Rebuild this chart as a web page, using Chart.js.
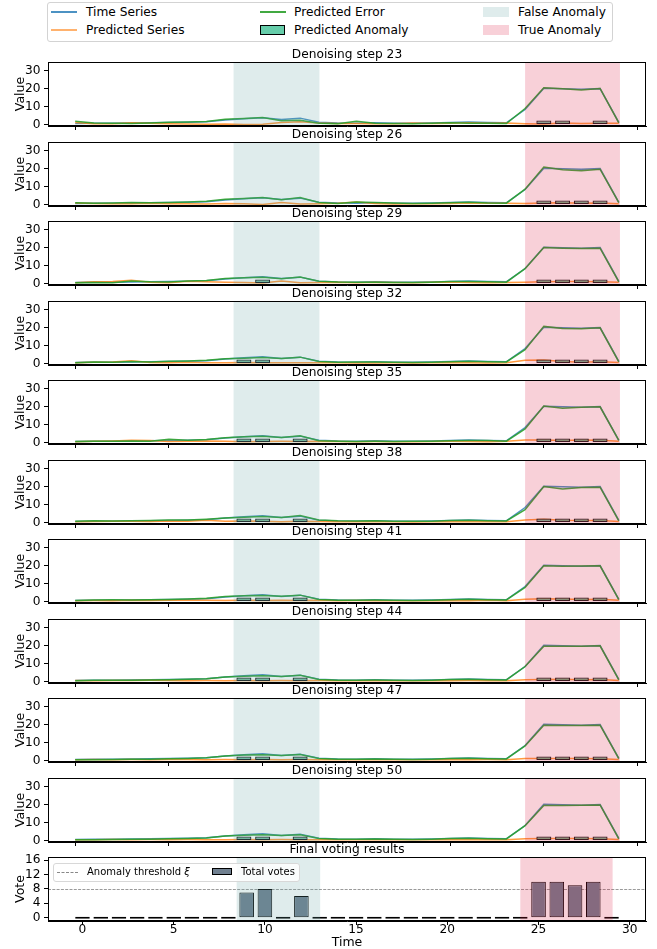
<!DOCTYPE html>
<html>
<head>
<meta charset="utf-8">
<script src="https://cdn.jsdelivr.net/npm/chart.js@4.4.1/dist/chart.umd.min.js"></script>
<style>
  body { margin:0; background:#fff; width:657px; height:949px; position:relative; overflow:hidden; font-family:"DejaVu Sans", sans-serif; color:#000; }
  canvas.pc { position:absolute; left:0; }
  .lg { position:absolute; white-space:nowrap; }
  .box { position:absolute; box-sizing:border-box; border:1px solid #d3d3d3; border-radius:3px; background:rgba(255,255,255,0.85); }
</style>
</head>
<body>
<!-- main legend -->
<div class="box" style="left:47px;top:2px;width:566px;height:40px;"></div>
<div class="lg" style="left:51px;top:11px;width:26px;height:1.5px;background:rgba(31,119,180,0.8);"></div>
<div class="lg" style="left:86px;top:4px;height:16px;line-height:16px;font-size:12.2px;">Time Series</div>
<div class="lg" style="left:51px;top:29px;width:26px;height:1.5px;background:rgba(255,127,14,0.6);"></div>
<div class="lg" style="left:86px;top:22px;height:16px;line-height:16px;font-size:12.2px;">Predicted Series</div>
<div class="lg" style="left:260px;top:11px;width:26px;height:1.5px;background:rgba(44,160,44,0.9);"></div>
<div class="lg" style="left:294px;top:4px;height:16px;line-height:16px;font-size:12.2px;">Predicted Error</div>
<div class="lg" style="left:260px;top:25px;width:25px;height:10px;box-sizing:border-box;border:1px solid #000;background:#66cdaa;"></div>
<div class="lg" style="left:294px;top:22px;height:16px;line-height:16px;font-size:12.2px;">Predicted Anomaly</div>
<div class="lg" style="left:483px;top:7px;width:26px;height:10px;background:#dfecec;"></div>
<div class="lg" style="left:518px;top:4px;height:16px;line-height:16px;font-size:12.2px;">False Anomaly</div>
<div class="lg" style="left:483px;top:25px;width:26px;height:10px;background:#f8d0d8;"></div>
<div class="lg" style="left:518px;top:22px;height:16px;line-height:16px;font-size:12.2px;">True Anomaly</div>

<script>
// ---------------- data ----------------
const timeIndex = [0,1,2,3,4,5,6,7,8,9,10,11,12,13,14,15,16,17,18,19,20,21,22,23,24,25,26,27,28,29];
const timeTicks = [0,5,10,15,20,25,30];
const valueTicks = [0,10,20,30];
const voteTicks = [0,4,8,12,16];
const denoisingSteps = [23,26,29,32,35,38,41,44,47,50];

const timeSeries = [0.6,0.7,0.8,0.9,1.0,1.1,1.3,1.6,2.6,3.2,3.8,2.8,3.6,1.3,0.9,0.8,1.0,0.8,0.7,0.9,1.2,1.4,1.2,1.0,8.4,20.3,20.0,19.7,20.1,1.2];

const predicted23 = [1.2,0.4,0.5,1.0,0.7,0.4,0.3,0.2,0.3,0.1,0.2,1.1,1.6,0.9,0.6,0.6,0.5,0.4,0.9,0.6,0.8,1.0,0.8,0.9,0.5,0.3,0.9,0.6,0.7,0.8];
const predicted26 = [0.9,0.6,0.4,0.5,0.7,0.4,0.5,0.3,0.6,0.4,0.1,1.2,0.3,0.5,0.8,1.4,0.6,0.3,0.5,0.4,0.6,0.9,0.8,0.7,0.6,0.9,1.0,0.8,0.9,0.5];
const predicted29 = [0.4,1.0,1.1,1.9,0.8,0.5,1.3,1.0,0.8,0.6,0.3,1.5,0.4,0.6,0.7,0.5,0.8,0.6,0.4,0.7,0.9,0.6,0.5,0.6,0.8,1.0,1.1,1.2,1.0,0.7];
const predicted32 = [0.4,0.8,0.9,1.6,0.6,0.5,0.8,0.5,0.4,0.6,0.5,0.4,0.5,0.5,0.4,0.3,0.3,0.4,0.3,0.5,0.6,0.4,0.3,0.4,1.9,2.0,1.1,0.8,1.0,0.6];
const predicted35 = [0.5,0.7,0.9,1.3,1.1,0.6,0.8,0.9,0.7,0.5,0.6,0.7,0.6,0.8,0.6,0.5,0.6,0.5,0.4,0.6,0.7,0.6,0.4,0.7,1.5,1.5,1.2,1.4,1.3,0.8];
const predicted38 = [0.4,0.6,0.8,0.7,0.6,0.9,0.7,1.3,0.8,0.9,0.7,0.5,0.8,0.6,0.5,0.4,0.5,0.4,0.3,0.5,0.4,0.6,0.5,0.4,1.4,1.8,1.3,1.1,1.2,0.6];
const predicted41 = [0.5,0.6,0.5,0.7,0.6,0.7,0.8,0.7,0.6,0.7,0.6,0.8,0.6,0.7,0.5,0.6,0.5,0.4,0.5,0.4,0.6,0.5,0.7,0.5,1.3,1.6,1.4,1.2,1.3,0.7];
const predicted44 = [0.6,0.5,0.6,0.6,0.7,0.6,0.5,0.6,0.5,0.6,0.5,0.6,0.5,0.6,0.5,0.5,0.4,0.5,0.4,0.5,0.5,0.6,0.5,0.5,1.0,1.2,1.3,1.0,1.1,0.6];
const predicted47 = [0.5,0.6,0.5,0.6,0.5,0.6,0.6,0.5,0.6,0.5,0.6,0.5,0.6,0.5,0.5,0.4,0.5,0.4,0.5,0.4,0.5,0.5,0.6,0.5,1.1,1.2,1.1,1.2,1.0,0.6];
const predicted50 = [0.5,0.5,0.6,0.5,0.6,0.5,0.6,0.5,0.5,0.6,0.5,0.6,0.5,0.5,0.4,0.5,0.4,0.5,0.4,0.5,0.5,0.4,0.5,0.5,1.0,1.1,1.2,1.1,1.0,0.6];

const error23 = [1.8,0.9,0.7,0.6,0.9,1.3,1.5,1.7,3.0,3.4,3.9,2.2,2.4,0.8,0.5,1.9,0.8,0.6,0.5,0.8,1.0,0.8,0.7,0.6,9.0,20.6,20.1,19.4,20.2,0.9];
const error26 = [1.0,0.8,0.9,1.1,1.0,1.2,1.4,1.8,3.0,3.4,4.0,2.7,3.9,1.2,0.6,1.5,1.2,0.9,0.6,0.7,1.0,1.3,0.9,0.8,8.6,21.0,19.5,18.9,19.8,1.1];
const error29 = [0.5,0.6,0.4,1.4,1.0,0.9,1.5,1.7,2.8,3.2,3.6,2.7,3.7,1.3,0.9,0.8,0.7,0.6,0.6,0.8,1.1,1.2,1.0,0.8,8.3,20.2,19.8,19.6,19.8,1.0];
const error32 = [0.5,0.9,0.8,1.2,0.9,1.3,1.5,1.8,2.7,3.0,3.4,2.9,3.6,1.2,0.8,0.9,0.9,0.7,0.6,0.8,1.0,1.3,1.0,0.9,7.8,20.8,19.6,19.5,20.0,0.9];
const error35 = [0.6,0.7,0.8,0.9,0.7,1.9,1.3,1.7,2.7,3.3,3.5,2.8,3.8,1.0,0.8,0.6,0.7,0.6,0.7,0.8,1.0,1.2,1.1,0.8,7.6,20.4,19.2,19.8,20.0,1.2];
const error38 = [0.7,1.0,0.9,1.0,1.1,1.4,1.4,1.9,2.6,3.0,3.4,2.9,3.9,1.5,1.0,0.9,1.0,0.8,0.7,0.8,1.1,1.3,1.0,0.9,7.2,20.2,18.8,19.6,19.8,1.0];
const error41 = [0.6,0.9,1.0,0.9,1.0,1.1,1.4,1.8,2.8,3.2,3.4,3.0,3.6,1.2,0.8,0.8,0.9,0.8,0.6,0.8,1.0,1.3,1.0,0.9,7.9,20.0,19.7,19.9,20.0,1.1];
const error44 = [0.5,0.7,0.8,0.8,0.9,1.0,1.3,1.6,2.6,3.0,3.3,2.9,3.5,1.2,0.8,0.8,0.9,0.8,0.6,0.8,1.1,1.3,1.0,0.9,8.4,19.8,19.8,19.7,20.0,1.0];
const error47 = [0.4,0.5,0.6,0.7,0.8,1.0,1.2,1.6,2.6,3.1,3.3,2.8,3.4,1.1,0.8,0.7,0.9,0.8,0.6,0.8,1.1,1.3,1.0,0.9,8.2,19.7,19.6,19.6,19.8,1.1];
const error50 = [0.4,0.5,0.6,0.7,0.8,1.0,1.2,1.5,2.6,3.0,3.2,2.9,3.3,1.1,0.8,0.7,0.9,0.8,0.6,0.8,1.1,1.3,1.0,0.9,8.3,19.6,19.6,19.7,19.9,1.0];

const anomaly23 = [25,26,28];
const anomaly26 = [25,26,27,28];
const anomaly29 = [10,25,26,27,28];
const anomaly32 = [9,10,25,26,27,28];
const anomaly35 = [9,10,12,25,26,27,28];
const anomaly38 = [9,10,12,25,26,27,28];
const anomaly41 = [9,10,12,25,26,27,28];
const anomaly44 = [9,10,12,25,26,27,28];
const anomaly47 = [9,10,12,25,26,27,28];
const anomaly50 = [9,10,12,25,26,27,28];
const anomalyMarkerHeight = 2.3;

const totalVotes = [0,0,0,0,0,0,0,0,0,7,8,0,6,0,0,0,0,0,0,0,0,0,0,0,0,10,10,9,10,0];
const anomalyThreshold = 8;

const falseAnomalySpan = [8.45, 13.03];
const trueAnomalySpan = [24.0, 29.06];

const predictedList = [predicted23,predicted26,predicted29,predicted32,predicted35,predicted38,predicted41,predicted44,predicted47,predicted50];
const errorList = [error23,error26,error29,error32,error35,error38,error41,error44,error47,error50];
const anomalyList = [anomaly23,anomaly26,anomaly29,anomaly32,anomaly35,anomaly38,anomaly41,anomaly44,anomaly47,anomaly50];

// ---------------- drawing ----------------
Chart.defaults.font.family = '"DejaVu Sans", sans-serif';
Chart.defaults.color = '#000';

const FS = 12.2;

const panelPlugin = {
  id: 'panelDeco',
  beforeDatasetsDraw(chart, args, opts) {
    if (opts.threshold == null) return;
    const {ctx, chartArea: a, scales: {y}} = chart;
    const py = Math.round(y.getPixelForValue(opts.threshold)) + 0.5;
    ctx.save();
    ctx.strokeStyle = 'rgba(128,128,128,1)';
    ctx.lineWidth = 0.8;
    ctx.setLineDash([3, 1.3]);
    ctx.beginPath(); ctx.moveTo(a.left, py); ctx.lineTo(a.right, py); ctx.stroke();
    ctx.restore();
  },
  afterDatasetsDraw(chart) {
    const {ctx, chartArea: a, scales: {x}} = chart;
    ctx.save();
    ctx.beginPath(); ctx.rect(a.left, a.top, a.width, a.height); ctx.clip();
    const span = (s, c) => {
      const x0 = x.getPixelForValue(s[0]), x1 = x.getPixelForValue(s[1]);
      ctx.fillStyle = c; ctx.fillRect(x0, a.top, x1 - x0, a.height);
    };
    span(falseAnomalySpan, 'rgba(95,158,160,0.2)');
    span(trueAnomalySpan, 'rgba(220,20,60,0.2)');
    ctx.restore();
  },
  afterDraw(chart) {
    const {ctx, chartArea: a} = chart;
    ctx.save();
    ctx.strokeStyle = '#000'; ctx.lineWidth = 1;
    ctx.strokeRect(Math.round(a.left) + 0.5, Math.round(a.top) + 0.5, Math.round(a.width) - 1, Math.round(a.height) - 1);
    ctx.restore();
  }
};

function makeCanvas(top, h) {
  const c = document.createElement('canvas');
  c.className = 'pc';
  c.width = 657; c.height = h;
  c.style.top = top + 'px';
  c.style.width = '657px'; c.style.height = h + 'px';
  document.body.appendChild(c);
  return c;
}

function zeroPad(s) { s.paddingTop = 0; s.paddingBottom = 0; s.paddingLeft = 0; s.paddingRight = 0; }

function yAxis(min, max, ticksArr, label) {
  return {
    type: 'linear', min: min, max: max,
    afterBuildTicks: s => { s.ticks = ticksArr.map(v => ({value: v})); },
    ticks: { font: {size: FS}, color: '#000', padding: 3.5, autoSkip: false },
    grid: { drawOnChartArea: false, color: '#000', tickLength: 4, tickWidth: 1 },
    border: { color: '#000', width: 1 },
    title: { display: true, text: label, color: '#000', font: {size: 12.5, lineHeight: '15px'}, padding: {top: 13, bottom: 0} },
    afterFit: s => { s.width = 48; zeroPad(s); }
  };
}

const titleOpts = text => ({
  display: true, text: text, fullSize: false, color: '#000',
  font: {size: FS, weight: 'normal', lineHeight: '12px'},
  padding: {top: 9, bottom: 1}
});

// value panels
denoisingSteps.forEach((step, i) => {
  const boxTop = Math.round(62.3 + 79.5 * i);
  const c = makeCanvas(boxTop - 22, 92);
  const anomalies = anomalyList[i];
  new Chart(c, {
    type: 'line',
    data: {
      datasets: [
        { type: 'bar', label: 'Predicted Anomaly', order: 0,
          data: anomalies.map(t => ({x: t, y: anomalyMarkerHeight})),
          backgroundColor: '#5cbf9c', borderColor: '#1a1a1a', borderWidth: 1.2, borderSkipped: false,
          barPercentage: 0.8, categoryPercentage: 1.0 },
        { label: 'Predicted Error', order: 1, data: timeIndex.map((t, k) => ({x: t, y: errorList[i][k]})),
          borderColor: 'rgba(44,160,44,0.9)', borderWidth: 1.5, pointRadius: 0, tension: 0 },
        { label: 'Predicted Series', order: 2, data: timeIndex.map((t, k) => ({x: t, y: predictedList[i][k]})),
          borderColor: 'rgba(255,127,14,0.8)', borderWidth: 1.5, pointRadius: 0, tension: 0 },
        { label: 'Time Series', order: 3, data: timeIndex.map((t, k) => ({x: t, y: timeSeries[k]})),
          borderColor: 'rgba(31,119,180,0.8)', borderWidth: 1.5, pointRadius: 0, tension: 0 }
      ]
    },
    options: {
      responsive: false, animation: false, devicePixelRatio: 1, events: [],
      layout: { padding: {left: 0, right: 11, top: 0, bottom: 0}, autoPadding: false },
      plugins: { legend: {display: false}, tooltip: {enabled: false}, title: titleOpts('Denoising step ' + step), panelDeco: {} },
      scales: {
        x: {
          type: 'linear', min: -1.45, max: 30.45, offset: false,
          afterBuildTicks: s => { s.ticks = timeTicks.map(v => ({value: v})); },
          ticks: { display: false },
          grid: { drawOnChartArea: false, color: '#000', tickLength: 4, offset: false },
          border: { color: '#000', width: 1 },
          afterFit: s => { s.height = 6; zeroPad(s); }
        },
        y: yAxis(-0.8, 35, valueTicks, 'Value')
      }
    },
    plugins: [panelPlugin]
  });
});

// final voting panel
(function () {
  const boxTop = Math.round(62.3 + 79.5 * 10);
  const c = makeCanvas(boxTop - 22, 949 - (boxTop - 22));
  new Chart(c, {
    type: 'bar',
    data: {
      datasets: [
        { label: 'Total votes', data: timeIndex.map((t, k) => ({x: t, y: totalVotes[k]})),
          backgroundColor: '#708090', borderColor: '#000', borderWidth: 1, borderSkipped: false, minBarLength: 2,
          barPercentage: 0.8, categoryPercentage: 1.0 }
      ]
    },
    options: {
      responsive: false, animation: false, devicePixelRatio: 1, events: [],
      layout: { padding: {left: 0, right: 11, top: 0, bottom: 0}, autoPadding: false },
      plugins: { legend: {display: false}, tooltip: {enabled: false}, title: titleOpts('Final voting results'), panelDeco: {threshold: anomalyThreshold} },
      scales: {
        x: {
          type: 'linear', min: -1.89, max: 30.89, offset: false,
          afterBuildTicks: s => { s.ticks = timeTicks.map(v => ({value: v})); },
          ticks: { font: {size: FS}, color: '#000', padding: -2, maxRotation: 0, autoSkip: false },
          grid: { drawOnChartArea: false, color: '#000', tickLength: 4, offset: false },
          border: { color: '#000', width: 1 },
          title: { display: true, text: 'Time', color: '#000', font: {size: 12.5, lineHeight: '13px'}, padding: {top: 0, bottom: 0} },
          afterFit: s => { s.height = 28; zeroPad(s); }
        },
        y: yAxis(-0.92, 16.87, voteTicks, 'Vote')
      }
    },
    plugins: [panelPlugin]
  });
})();
</script>

<!-- final panel legend -->
<div class="box" style="left:53px;top:863px;width:247px;height:19px;border-color:#d8d8d8;"></div>
<div class="lg" style="left:57px;top:872px;width:21px;height:0;border-top:1px dashed #888;"></div>
<div class="lg" style="left:87px;top:864px;height:16px;line-height:16px;font-size:10px;">Anomaly threshold <i>ξ</i></div>
<div class="lg" style="left:212px;top:868px;width:20px;height:7px;box-sizing:border-box;border:1px solid #000;background:#708090;"></div>
<div class="lg" style="left:241px;top:864px;height:16px;line-height:16px;font-size:10px;">Total votes</div>
</body>
</html>
